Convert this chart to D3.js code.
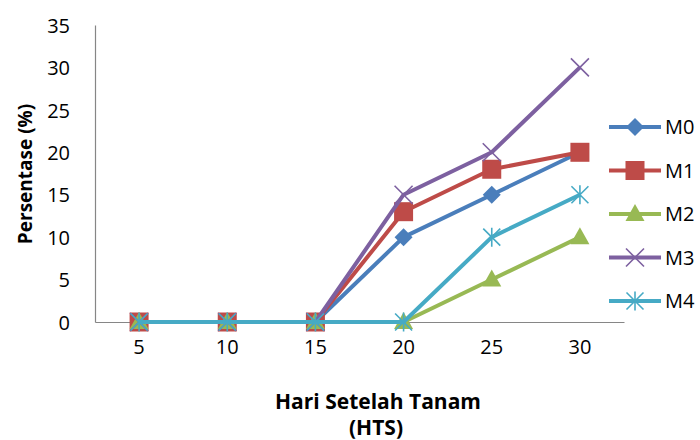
<!DOCTYPE html>
<html><head><meta charset="utf-8">
<script src="https://cdn.jsdelivr.net/npm/d3@7"></script>
<style>body{margin:0;background:#fff}svg{display:block}text{font-family:"Open Sans",sans-serif}</style>
</head><body>
<svg id="c" width="700" height="440"></svg>
<script>
const categories = ["5","10","15","20","25","30"];
const seriesNames = ["M0","M1","M2","M3","M4"];
const M0 = [0,0,0,10,15,20];
const M1 = [0,0,0,13,18,20];
const M2 = [0,0,0,0,5,10];
const M3 = [0,0,0,15,20,30];
const M4 = [0,0,0,0,10,15];
const yTicks = [0,5,10,15,20,25,30,35];
const colors = ["#4a7ebb","#be4b48","#98b954","#7d60a0","#46aac5"];
const markers = ["diamond","square","triangle","x","asterisk"];
const seriesValues = [M0,M1,M2,M3,M4];

const svg = d3.select("#c");
const mLeft=95,mRight=624,mTop=25,mBottom=322;
const x = d3.scaleBand().domain(categories).range([mLeft,mRight]);
const y = d3.scaleLinear().domain([0,35]).range([mBottom,mTop]);

// axes
const ya = svg.append("g").attr("transform",`translate(${mLeft},0)`)
  .call(d3.axisLeft(y).tickValues(yTicks).tickSize(0).tickPadding(12));
ya.select(".domain").attr("stroke","#868686").attr("stroke-width",1.2);
ya.selectAll("text").attr("font-size",20).attr("fill","#000").attr("x",-25).attr("dy","0.36em");
const xa = svg.append("g").attr("transform",`translate(0,${mBottom})`)
  .call(d3.axisBottom(x).tickSize(0).tickPadding(18));
xa.select(".domain").attr("stroke","#868686").attr("stroke-width",1.2);
xa.selectAll("text").attr("font-size",20).attr("fill","#000").attr("y",25).attr("dy","0.36em");

svg.append("text").attr("transform","translate(25,174) rotate(-90)")
  .attr("text-anchor","middle").attr("dy","0.36em").attr("font-size",19).attr("font-weight","bold").text("Persentase (%)");
svg.append("text").attr("x",378).attr("y",409).attr("text-anchor","middle")
  .attr("font-size",21).attr("font-weight","bold").text("Hari Setelah Tanam");
svg.append("text").attr("x",376).attr("y",435).attr("text-anchor","middle")
  .attr("font-size",21).attr("font-weight","bold").text("(HTS)");

function drawMarker(g, type, cx, cy, color){
  if(type==="diamond"){
    g.append("path").attr("d",`M${cx},${cy-9}L${cx+9},${cy}L${cx},${cy+9}L${cx-9},${cy}Z`).attr("fill",color);
  } else if(type==="square"){
    g.append("rect").attr("x",cx-9.5).attr("y",cy-9.5).attr("width",19).attr("height",19).attr("fill",color);
  } else if(type==="triangle"){
    g.append("path").attr("d",`M${cx},${cy-10}L${cx+9.5},${cy+7}L${cx-9.5},${cy+7}Z`).attr("fill",color);
  } else if(type==="x"){
    const s=9;
    g.append("path").attr("d",`M${cx-s},${cy-s}L${cx+s},${cy+s}M${cx-s},${cy+s}L${cx+s},${cy-s}`)
      .attr("stroke",color).attr("stroke-width",1.6).attr("fill","none");
  } else {
    const s=8.5;
    g.append("path").attr("d",`M${cx-s},${cy-s}L${cx+s},${cy+s}M${cx-s},${cy+s}L${cx+s},${cy-s}M${cx},${cy-s-1}L${cx},${cy+s+1}`)
      .attr("stroke",color).attr("stroke-width",1.6).attr("fill","none");
  }
}

const line = d3.line().x((d,i)=>x(categories[i])+x.bandwidth()/2).y(d=>y(d));
seriesValues.forEach((vals,si)=>{
  const g = svg.append("g");
  g.append("path").datum(vals).attr("d",line).attr("fill","none")
    .attr("stroke",colors[si]).attr("stroke-width",4).attr("stroke-linejoin","round");
  vals.forEach((v,i)=>drawMarker(g,markers[si],x(categories[i])+x.bandwidth()/2,y(v),colors[si]));
});

// legend
seriesNames.forEach((name,si)=>{
  const ly = 127 + si*43.5;
  const g = svg.append("g");
  g.append("line").attr("x1",609).attr("x2",661).attr("y1",ly).attr("y2",ly)
    .attr("stroke",colors[si]).attr("stroke-width",4);
  drawMarker(g,markers[si],635,ly,colors[si]);
  g.append("text").attr("x",665).attr("y",ly).attr("dy","0.36em").attr("font-size",20).text(name);
});
</script>
</body></html>
